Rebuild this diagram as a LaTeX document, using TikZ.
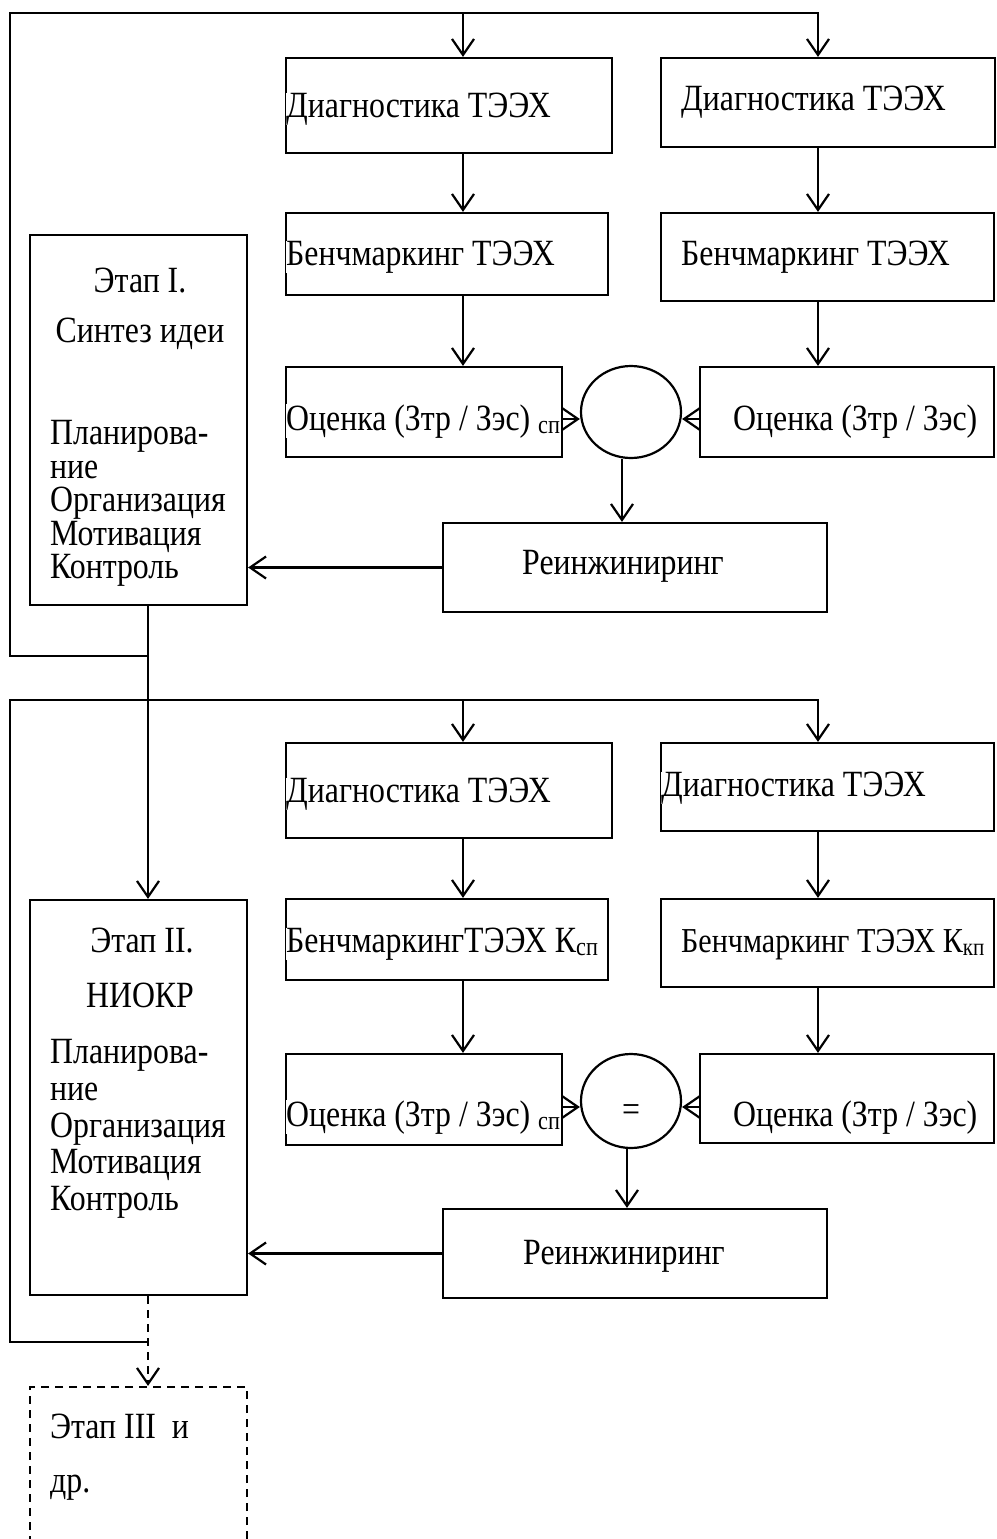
\documentclass[tikz,border=0pt]{standalone}
\usepackage{fontspec}
\setmainfont{Liberation Serif}[FakeStretch=0.86]
\usetikzlibrary{arrows.meta,shapes.geometric}
\newcommand\diagfont{\fontsize{37}{40}\selectfont}
\newcommand\diagfontsmall{\fontsize{35}{38}\selectfont}

\begin{document}
\begin{tikzpicture}[x=1pt,y=-1pt,
  frame/.style={draw, rectangle, line width=2.2pt, inner sep=0pt},
  oval/.style={draw, ellipse, line width=2.2pt, inner sep=0pt},
  link/.style={line width=2.2pt},
  arr/.style={link, -{Straight Barb[length=16pt,width=22pt]}},
  brokenline/.style={dash pattern=on 8pt off 6pt},
  txt/.style={anchor=base west, inner sep=0pt, font=\diagfont},
  ctxt/.style={anchor=base, inner sep=0pt, font=\diagfont},
  gap/.style={fill=white}]

\path[use as bounding box] (0,0) rectangle (996,1539);
\clip (0,0) rectangle (996,1539);

% column axes for the vertical connectors
\coordinate (colA) at (463,0);
\coordinate (colB) at (818,0);
\coordinate (colE) at (148,0);
\coordinate (colC) at (622,0);
\coordinate (colD) at (627,0);
\coordinate (rowO) at (0,419);
\coordinate (rowP) at (0,1107);

% ---------- stage I ----------
\node[frame, minimum width=326pt, minimum height=95pt] (D1) at (449,105.5) {};
\node[frame, minimum width=334pt, minimum height=89pt] (D2) at (828,102.5) {};
\node[frame, minimum width=322pt, minimum height=82pt] (B1) at (447,254) {};
\node[frame, minimum width=333pt, minimum height=88pt] (B2) at (827.5,257) {};
\node[frame, minimum width=276pt, minimum height=90pt] (O1) at (424,412) {};
\node[frame, minimum width=294pt, minimum height=90pt] (O2) at (847,412) {};
\node[oval, minimum width=100pt, minimum height=92pt] (C1) at (631,412) {};
\node[frame, minimum width=384pt, minimum height=89pt] (R1) at (635,567.5) {};
\node[frame, minimum width=217pt, minimum height=370pt] (E1) at (138.5,420) {};

\node[txt, gap] (tD1) at (286,117) {Диагностика ТЭЭХ};
\node[txt] (tD2) at (681,110) {Диагностика ТЭЭХ};
\node[txt, gap] (tB1) at (286,265) {Бенчмаркинг ТЭЭХ};
\node[txt] (tB2) at (681,265) {Бенчмаркинг ТЭЭХ};
\node[txt, gap] (tO1) at (286,430) {Оценка (Зтр / Зэс) \textsubscript{сп}};
\node[txt] (tO2) at (733,430) {Оценка (Зтр / Зэс)};
\node[ctxt] (tR1) at (623,574) {Реинжиниринг};
\node[ctxt] (tE1a) at (140,292) {Этап I.};
\node[ctxt] (tE1b) at (140,342) {Синтез идеи};
\node[txt] (tE1c) at (50,444) {Планирова-};
\node[txt] (tE1d) at (50,478) {ние};
\node[txt] (tE1e) at (50,511) {Организация};
\node[txt] (tE1f) at (50,545) {Мотивация};
\node[txt] (tE1g) at (50,578) {Контроль};

% ---------- stage II ----------
\node[frame, minimum width=326pt, minimum height=95pt] (D3) at (449,790.5) {};
\node[frame, minimum width=333pt, minimum height=88pt] (D4) at (827.5,787) {};
\node[frame, minimum width=322pt, minimum height=81pt] (B3) at (447,939.5) {};
\node[frame, minimum width=333pt, minimum height=88pt] (B4) at (827.5,943) {};
\node[frame, minimum width=276pt, minimum height=91pt] (O3) at (424,1099.5) {};
\node[frame, minimum width=294pt, minimum height=89pt] (O4) at (847,1098.5) {};
\node[oval, minimum width=100pt, minimum height=94pt] (C2) at (631,1101) {};
\node[frame, minimum width=384pt, minimum height=89pt] (R2) at (635,1253.5) {};
\node[frame, minimum width=217pt, minimum height=395pt] (E2) at (138.5,1097.5) {};
\node[frame, brokenline, minimum width=217pt, minimum height=173pt] (E3) at (138.5,1473.5) {};

\node[txt, gap] (tD3) at (286,802) {Диагностика ТЭЭХ};
\node[txt, gap] (tD4) at (661,796) {Диагностика ТЭЭХ};
\node[txt, gap] (tB3) at (286,952) {БенчмаркингТЭЭХ К\textsubscript{сп}};
\node[txt, font=\diagfontsmall] (tB4) at (681,952) {Бенчмаркинг ТЭЭХ К\textsubscript{кп}};
\node[txt, gap] (tO3) at (286,1126) {Оценка (Зтр / Зэс) \textsubscript{сп}};
\node[txt] (tO4) at (733,1126) {Оценка (Зтр / Зэс)};
\node[inner sep=0pt, font=\diagfont] (tC2) at (631,1113) {=};
\node[ctxt] (tR2) at (624,1264) {Реинжиниринг};
\node[ctxt] (tE2a) at (142,952) {Этап II.};
\node[ctxt] (tE2b) at (140,1007) {НИОКР};
\node[txt] (tE2c) at (50,1063) {Планирова-};
\node[txt] (tE2d) at (50,1100) {ние};
\node[txt] (tE2e) at (50,1137) {Организация};
\node[txt] (tE2f) at (50,1173) {Мотивация};
\node[txt] (tE2g) at (50,1210) {Контроль};
\node[txt] (tE3a) at (50,1438) {Этап III\ \ и};
\node[txt] (tE3b) at (50,1492) {др.};

% ---------- feedback loops ----------
\coordinate (k1) at (10,13);
\coordinate (j1) at (148,656);
\coordinate (k2) at (10,700);
\coordinate (j2) at (148,1342);

\draw[arr] (j1) -| (k1) -| (D2.north -| colB);
\draw[arr] (k1 -| colA) -- (D1.north -| colA);
\draw[arr] (j2) -| (k2) -| (D4.north -| colB);
\draw[arr] (k2 -| colA) -- (D3.north -| colA);

% ---------- connectors, stage I ----------
\draw[arr] (D1.south -| colA) -- (B1.north -| colA);
\draw[arr] (B1.south -| colA) -- (O1.north -| colA);
\draw[arr] (D2.south -| colB) -- (B2.north -| colB);
\draw[arr] (B2.south -| colB) -- (O2.north -| colB);
\draw[arr] (O1.east |- rowO) -- (C1.west |- rowO);
\draw[arr] (O2.west |- rowO) -- (C1.east |- rowO);
\draw[arr] (C1.south -| colC) -- (R1.north -| colC);
\draw[arr] (R1.west) -- (E1.east |- R1.west);
\draw[arr] (E1.south -| colE) -- (E2.north -| colE);

% ---------- connectors, stage II ----------
\draw[arr] (D3.south -| colA) -- (B3.north -| colA);
\draw[arr] (B3.south -| colA) -- (O3.north -| colA);
\draw[arr] (D4.south -| colB) -- (B4.north -| colB);
\draw[arr] (B4.south -| colB) -- (O4.north -| colB);
\draw[arr] (O3.east |- rowP) -- (C2.west |- rowP);
\draw[arr] (O4.west |- rowP) -- (C2.east |- rowP);
\draw[arr] (C2.south -| colD) -- (R2.north -| colD);
\draw[arr] (R2.west) -- (E2.east |- R2.west);
\draw[arr, brokenline] (E2.south -| colE) -- (E3.north -| colE);

\end{tikzpicture}
\end{document}
